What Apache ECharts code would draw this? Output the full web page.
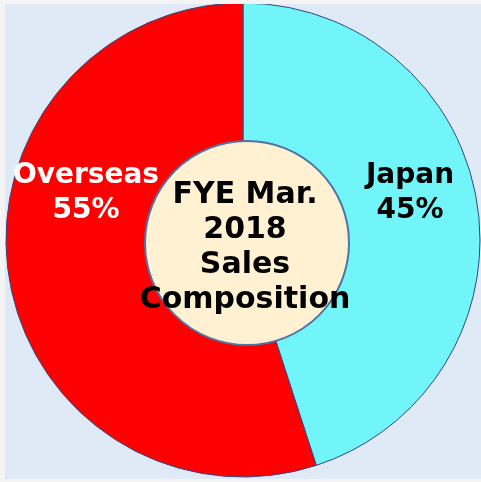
<!DOCTYPE html>
<html>
<head>
<meta charset="utf-8">
<script src="https://cdn.jsdelivr.net/npm/echarts@6/dist/echarts.min.js"></script>
<style>
  html, body { margin: 0; padding: 0; background: #f4f4f4; }
  #container { position: absolute; left: 5px; top: 4px; width: 476px; height: 475px; }
</style>
</head>
<body>
<div id="container"></div>
<script>
const regions = ['Japan', 'Overseas'];
const shares = [45, 55];
const regionColors = ['#71f5f9', '#ff0000'];
const labelColors = ['#000000', '#ffffff'];
const centerLines = ['FYE Mar.', '2018', 'Sales', 'Composition'];

// where each slice label sits (the reference places them by hand)
const labelPos = [[405, 189], [81, 189]];

const myChart = echarts.init(document.getElementById('container'));
const option = {
    backgroundColor: '#dfeaf6',
    animation: false,
    series: [
        {
            type: 'pie',
            center: [238, 236],
            radius: [0, 237],
            startAngle: 90,
            clockwise: true,
            silent: true,
            itemStyle: {
                borderColor: '#2f4a86',
                borderWidth: 1,
            },
            label: {
                show: true,
                position: 'inside',
                formatter: '{b}\n{d}%',
                fontFamily: 'DejaVu Sans',
                fontWeight: 'bold',
                fontSize: 28,
                lineHeight: 35,
                align: 'center',
            },
            labelLayout: function (params) {
                const p = labelPos[params.dataIndex];
                return { x: p[0], y: p[1], align: 'center', verticalAlign: 'middle' };
            },
            data: regions.map((name, i) => ({
                name: name,
                value: shares[i],
                itemStyle: { color: regionColors[i] },
                label: { color: labelColors[i] },
            })),
        },
    ],
    graphic: [
        {
            type: 'circle',
            shape: { cx: 242, cy: 239, r: 102 },
            style: { fill: '#fff1d2', stroke: '#4f74a6', lineWidth: 2 },
            z: 10,
        },
        {
            type: 'text',
            x: 240,
            y: 244,
            z: 11,
            style: {
                text: centerLines.join('\n'),
                fill: '#000',
                font: 'bold 30px "DejaVu Sans"',
                lineHeight: 35,
                align: 'center',
                verticalAlign: 'middle',
            },
        },
    ],
};
myChart.setOption(option);
window.addEventListener('resize', () => {
    myChart.resize()
})
</script>
</body>
</html>
